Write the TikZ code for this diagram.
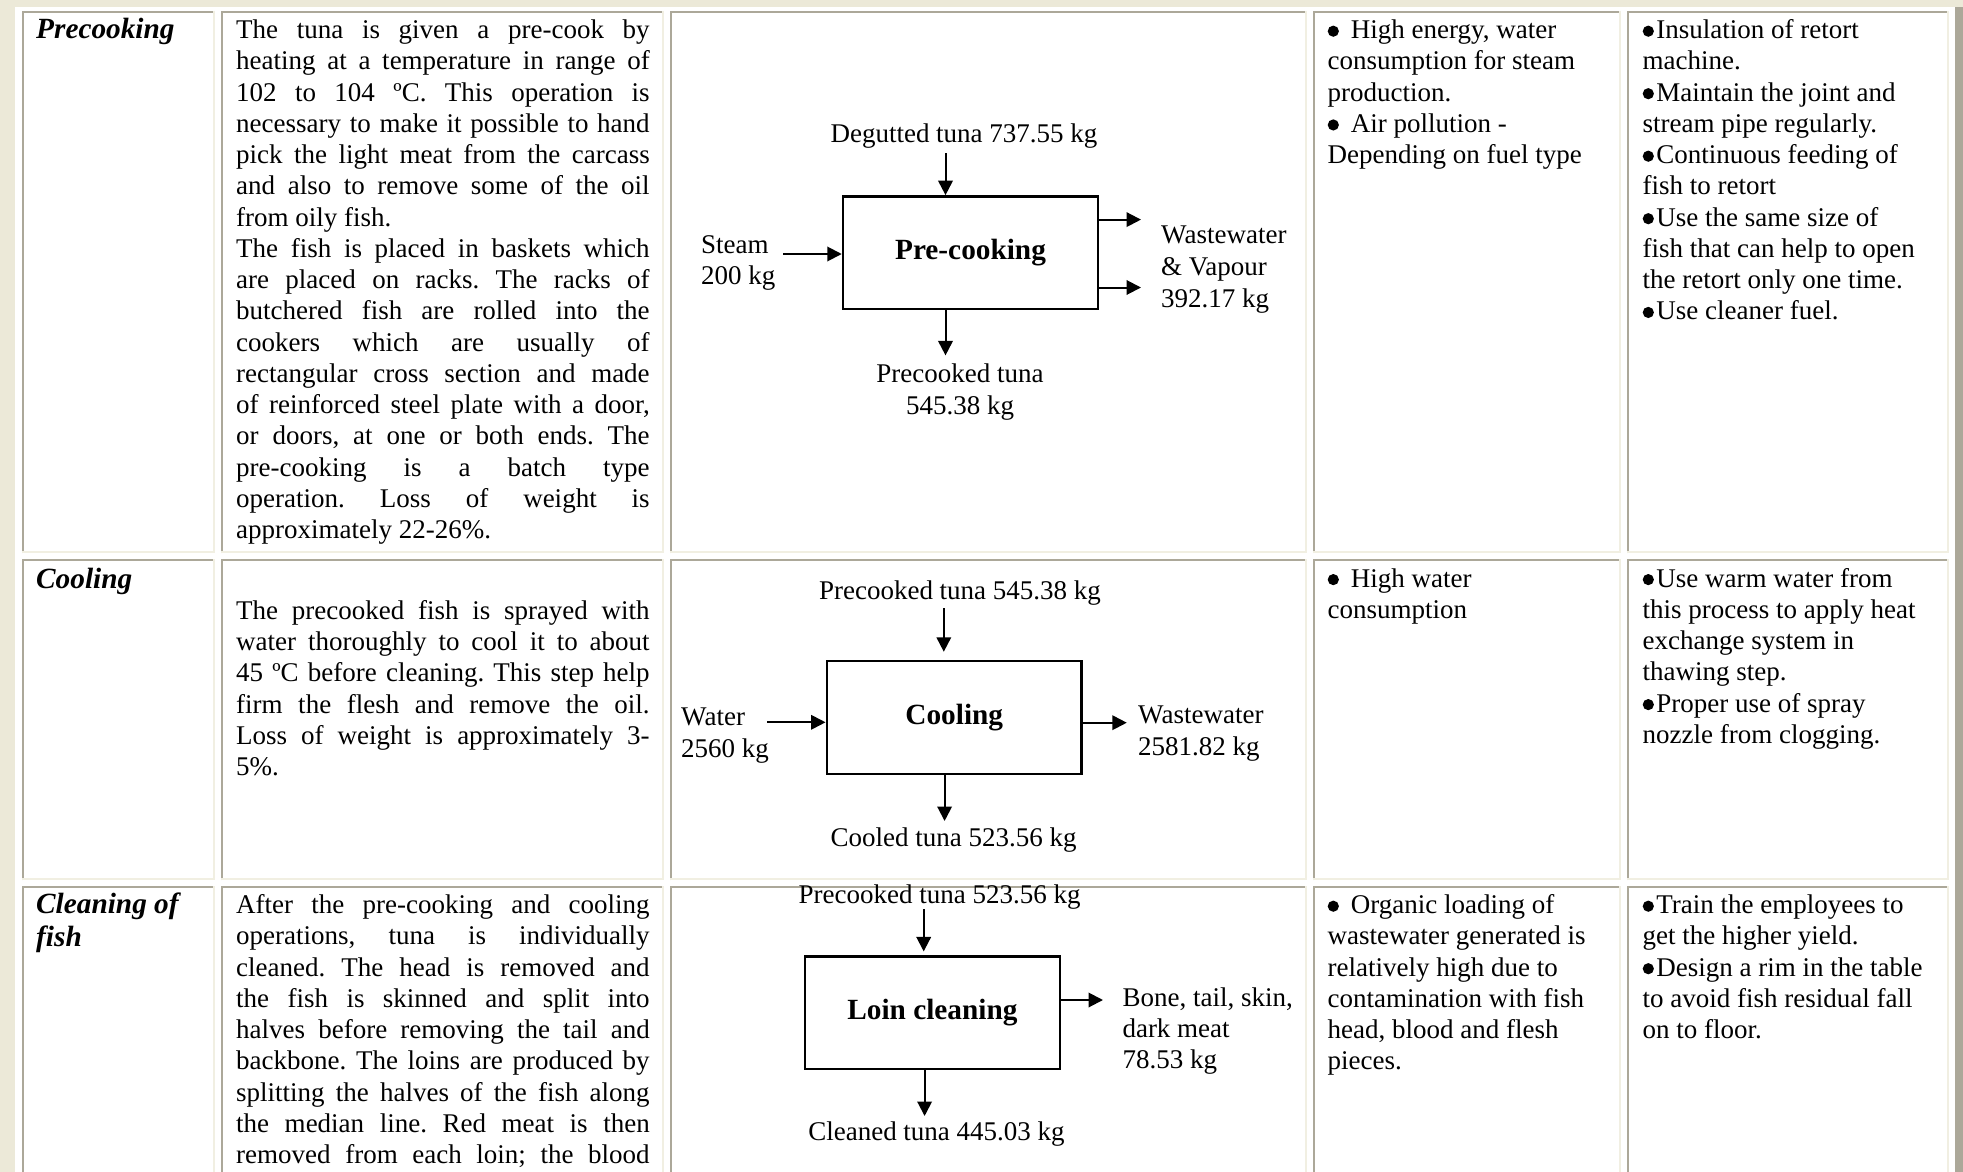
\documentclass[tikz,border=0pt]{standalone}
\usepackage{fontspec}
\setmainfont{Liberation Serif}
\usetikzlibrary{arrows.meta}
\definecolor{pagebg}{HTML}{ECE9D8}
\definecolor{cellgray}{HTML}{ACA899}
\definecolor{celllight}{HTML}{F1EFE2}
% font's own stretchable interword glue (for justified lines)
\newcommand\natsp{\spaceskip=0pt\xspaceskip=0pt\relax}
% rigid word space of the font (for ragged and centred text)
\newcommand\fixsp{\spaceskip=.25em\relax\xspaceskip=.25em\relax}
% one justified line of a paragraph
\newcommand\jl[1]{{\natsp\makebox[\linewidth][s]{#1}}}
% round bullet used in the lists
\newcommand\bul{\tikz[baseline=0pt,x=1pt,y=1pt]\fill (5.6,7.4) circle[radius=5.6pt];}
\begin{document}
\frenchspacing
\begin{tikzpicture}[x=1pt,y=-1pt,
  body/.style={font=\fontsize{27pt}{31.25pt}\selectfont, inner sep=0pt, anchor=base west, align=left, execute at begin node=\fixsp},
  bodyj/.style={body, text width=413.5pt},
  head/.style={font=\fontsize{29.3pt}{33pt}\selectfont\bfseries\itshape, inner sep=0pt, anchor=base west, text width=175pt, align=left, execute at begin node=\fixsp},
  note/.style={body, text width=300pt},
  lbl/.style={font=\fontsize{27pt}{31.5pt}\selectfont, inner sep=0pt, execute at begin node=\fixsp},
  lblw/.style={lbl, anchor=base west, text width=220pt, align=left},
  lblc/.style={lbl, anchor=base, text width=420pt, align=center},
  procbox/.style={draw, line width=2.5pt, inner sep=0pt, font=\fontsize{29.3pt}{31pt}\selectfont\bfseries},
  arr/.style={line width=2pt, -{Triangle[length=14.5pt,width=14.5pt]}},
]
\path[use as bounding box, clip] (0,0) rectangle (1963,1172);

% window background and table frame
\fill[pagebg] (0,0) rectangle (1963,1172);
\fill[white] (15,7) rectangle (1955,1172);
\fill[cellgray] (1955,7) rectangle (1963,1172);

% table cells: dark top/left edge, light bottom/right edge
\foreach \xa/\xb in {22/215,221/664,670/1307,1313/1621,1627/1949}
  \foreach \ya/\yb in {11/553,559/880,886/1190} {
    \draw[cellgray,line width=2pt] (\xa+1,\yb) -- (\xa+1,\ya+1) -- (\xb,\ya+1);
    \draw[celllight,line width=2pt] (\xb-1,\ya) -- (\xb-1,\yb-1) -- (\xa,\yb-1);
  }

% ---------- row 1: precooking ----------
\node[head] (h1) at (36,38.6) {Precooking};
\node[bodyj] (t1) at (236,38.6) {%
\jl{The tuna is given a pre-cook by}\\
\jl{heating at a temperature in range of}\\
\jl{102 to 104 ºC. This operation is}\\
\jl{necessary to make it possible to hand}\\
\jl{pick the light meat from the carcass}\\
\jl{and also to remove some of the oil}\\
from oily fish.\\
\jl{The fish is placed in baskets which}\\
\jl{are placed on racks. The racks of}\\
\jl{butchered fish are rolled into the}\\
\jl{cookers which are usually of}\\
\jl{rectangular cross section and made}\\
\jl{of reinforced steel plate with a door,}\\
\jl{or doors, at one or both ends. The}\\
\jl{pre-cooking is a batch type}\\
\jl{operation. Loss of weight is}\\
approximately 22-26\%.};
\node[note] (n1) at (1327.5,38.6) {%
\bul\hspace{12pt}High energy, water\\
consumption for steam\\
production.\\
\bul\hspace{12pt}Air pollution -\\
Depending on fuel type};
\node[note] (m1) at (1642.5,38.6) {%
\bul\hspace{2.5pt}Insulation of retort\\
machine.\\
\bul\hspace{2.5pt}Maintain the joint and\\
stream pipe regularly.\\
\bul\hspace{2.5pt}Continuous feeding of\\
fish to retort\\
\bul\hspace{2.5pt}Use the same size of\\
fish that can help to open\\
the retort only one time.\\
\bul\hspace{2.5pt}Use cleaner fuel.};

% pre-cooking flow
\node[procbox, minimum width=255pt, minimum height=112.6pt] (pcbox) at (970.5,252.7) {Pre-cooking};
\node[lblc] (degut) at (964,142) {Degutted tuna 737.55 kg};
\node[lblw] (steam) at (701,253) {Steam\\200 kg};
\node[lblw, font=\fontsize{27pt}{32pt}\selectfont] (vap) at (1161,243) {Wastewater\\\& Vapour\\392.17 kg};
\node[lblc, font=\fontsize{27pt}{32pt}\selectfont] (pct) at (960,382) {Precooked tuna\\545.38 kg};
\coordinate (pcin) at (945.5,153);
\coordinate (stin) at (783,254);
\coordinate (vpa) at (1141,219.6);
\coordinate (vpb) at (1141,287.5);
\coordinate (pcout) at (945.5,355.4);
\draw[arr] (pcin) -- (pcin |- pcbox.north);
\draw[arr] (stin) -- (stin -| pcbox.west);
\draw[arr] (vpa -| pcbox.east) -- (vpa);
\draw[arr] (vpb -| pcbox.east) -- (vpb);
\draw[arr] (pcout |- pcbox.south) -- (pcout);

% ---------- row 2: cooling ----------
\node[head] (h2) at (36,588) {Cooling};
\node[bodyj] (t2) at (236,619.25) {%
\jl{The precooked fish is sprayed with}\\
\jl{water thoroughly to cool it to about}\\
\jl{45 ºC before cleaning. This step help}\\
\jl{firm the flesh and remove the oil.}\\
\jl{Loss of weight is approximately 3-}\\
5\%.};
\node[note] (n2) at (1327.5,587) {%
\bul\hspace{12pt}High water\\
consumption};
\node[note] (m2) at (1642.5,587) {%
\bul\hspace{2.5pt}Use warm water from\\
this process to apply heat\\
exchange system in\\
thawing step.\\
\bul\hspace{2.5pt}Proper use of spray\\
nozzle from clogging.};

% cooling flow
\node[procbox, minimum width=254.9pt, minimum height=113pt] (clbox) at (954.25,717.5) {Cooling};
\node[lblc] (clin) at (960,599.3) {Precooked tuna 545.38 kg};
\node[lblw, font=\fontsize{27pt}{32pt}\selectfont] (water) at (681,725) {Water\\2560 kg};
\node[lblw, font=\fontsize{27pt}{32pt}\selectfont] (wwc) at (1138,723.3) {Wastewater\\2581.82 kg};
\node[lblc] (cled) at (953.6,846.7) {Cooled tuna 523.56 kg};
\coordinate (clina) at (943.8,608);
\coordinate (wtin) at (767,722.3);
\coordinate (wwout) at (1126.8,722.7);
\coordinate (clout) at (944.6,821);
\draw[arr, shorten >=8pt] (clina) -- (clina |- clbox.north);
\draw[arr] (wtin) -- (wtin -| clbox.west);
\draw[arr] (wwout -| clbox.east) -- (wwout);
\draw[arr] (clout |- clbox.south) -- (clout);

% ---------- row 3: cleaning of fish ----------
\node[head] (h3) at (36,913.6) {Cleaning of\\fish};
\node[bodyj] (t3) at (236,913.6) {%
\jl{After the pre-cooking and cooling}\\
\jl{operations, tuna is individually}\\
\jl{cleaned. The head is removed and}\\
\jl{the fish is skinned and split into}\\
\jl{halves before removing the tail and}\\
\jl{backbone. The loins are produced by}\\
\jl{splitting the halves of the fish along}\\
\jl{the median line. Red meat is then}\\
\jl{removed from each loin; the blood}};
\node[note] (n3) at (1327.5,913.6) {%
\bul\hspace{12pt}Organic loading of\\
wastewater generated is\\
relatively high due to\\
contamination with fish\\
head, blood and flesh\\
pieces.};
\node[note] (m3) at (1642.5,913.6) {%
\bul\hspace{2.5pt}Train the employees to\\
get the higher yield.\\
\bul\hspace{2.5pt}Design a rim in the table\\
to avoid fish residual fall\\
on to floor.};

% loin cleaning flow
\node[procbox, minimum width=254.8pt, minimum height=112.3pt] (lcbox) at (932.4,1012.8) {Loin cleaning};
\node[lblc] (lcin) at (939.7,903.3) {Precooked tuna 523.56 kg};
\node[lblw, font=\fontsize{27pt}{30.7pt}\selectfont] (bone) at (1122.3,1006.7) {Bone, tail, skin,\\dark meat\\78.53 kg};
\node[lblc] (clnd) at (936.5,1140) {Cleaned tuna 445.03 kg};
\coordinate (lcina) at (923.7,909.3);
\coordinate (bnout) at (1103,1000);
\coordinate (lcout) at (924.6,1116);
\draw[arr, shorten >=4pt] (lcina) -- (lcina |- lcbox.north);
\draw[arr] (bnout -| lcbox.east) -- (bnout);
\draw[arr] (lcout |- lcbox.south) -- (lcout);
\end{tikzpicture}
\end{document}
